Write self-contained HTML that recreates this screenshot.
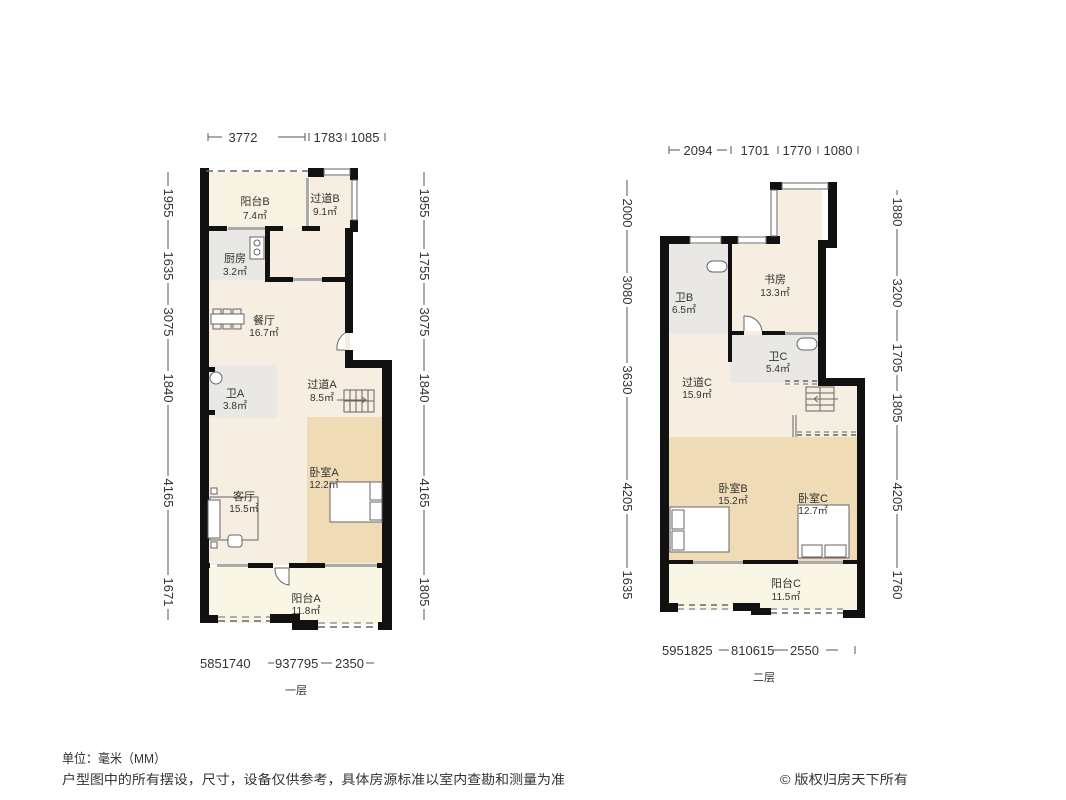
<!DOCTYPE html>
<html><head><meta charset="utf-8"><style>
html,body{margin:0;padding:0;background:#fff}
svg{display:block}
text{font-family:"Liberation Sans","Noto Sans CJK SC",sans-serif;fill:#333}
</style></head><body>
<svg width="1066" height="800" viewBox="0 0 1066 800" xmlns="http://www.w3.org/2000/svg">
<!-- ===== LEFT PLAN (一层) ===== -->
<rect x="208" y="172" width="100" height="56" fill="#f8f2e2"/>
<rect x="310" y="176" width="42" height="52" fill="#f6eee0"/>
<rect x="270" y="228" width="80" height="52" fill="#f6eee0"/>
<rect x="208" y="228" width="60" height="52" fill="#e9e8e4"/>
<rect x="208" y="280" width="142" height="85" fill="#f6eee0"/>
<rect x="208" y="360" width="178" height="205" fill="#f6eee0"/>
<rect x="208" y="365" width="69" height="53" fill="#e9e8e4"/>
<rect x="307" y="417" width="76" height="146" fill="#efdcb6"/>
<rect x="208" y="567" width="176" height="56" fill="#faf6e6"/>
<g fill="#111">
<rect x="200" y="168" width="9" height="455"/>
<rect x="200" y="615" width="18" height="8"/>
<rect x="270" y="614" width="30" height="9"/>
<rect x="292" y="620" width="26" height="10"/>
<rect x="378" y="622" width="14" height="8"/>
<rect x="382" y="360" width="10" height="270"/>
<rect x="345" y="360" width="47" height="8"/>
<rect x="345" y="228" width="8" height="105"/>
<rect x="345" y="350" width="8" height="18"/>
<rect x="350" y="220" width="8" height="12"/>
<rect x="350" y="168" width="8" height="12"/>
<rect x="308" y="168" width="16" height="9"/>
<rect x="209" y="226" width="18" height="5"/>
<rect x="265" y="226" width="18" height="5"/>
<rect x="302" y="226" width="18" height="5"/>
<rect x="265" y="226" width="5" height="55"/>
<rect x="265" y="277" width="28" height="5"/>
<rect x="322" y="277" width="28" height="5"/>
<rect x="200" y="563" width="10" height="5"/>
<rect x="248" y="563" width="25" height="5"/>
<rect x="289" y="563" width="36" height="5"/>
<rect x="377" y="563" width="8" height="5"/>
<rect x="209" y="410" width="6" height="5"/>
<rect x="209" y="367" width="6" height="5"/>
</g>
<g fill="#aaa">
<rect x="228" y="227" width="37" height="3"/>
<rect x="293" y="278" width="29" height="3"/>
<rect x="306" y="178" width="3" height="48"/>
<rect x="217" y="564" width="31" height="3"/>
<rect x="325" y="564" width="52" height="3"/>
</g>
<g fill="none" stroke="#666" stroke-width="1">
<line x1="206" y1="171" x2="308" y2="171" stroke-dasharray="7,5" stroke-width="1.5"/>
<rect x="324" y="169" width="26" height="6"/>
<rect x="352" y="180" width="5" height="40"/>
<line x1="218" y1="621" x2="270" y2="621" stroke-dasharray="7,5" stroke-width="1.5"/>
<line x1="318" y1="627" x2="378" y2="627" stroke-dasharray="7,5" stroke-width="1.5"/>
<line x1="218" y1="617" x2="270" y2="617" stroke-dasharray="7,5"/>
<line x1="318" y1="623" x2="378" y2="623" stroke-dasharray="7,5"/>
<rect x="250" y="237" width="14" height="22" fill="#fff"/>
<circle cx="257" cy="243" r="3"/><circle cx="257" cy="252" r="3"/>
<rect x="211" y="314" width="33" height="10" fill="#fff"/>
<rect x="213" y="309" width="8" height="5"/><rect x="223" y="309" width="8" height="5"/><rect x="233" y="309" width="8" height="5"/>
<rect x="213" y="324" width="8" height="5"/><rect x="223" y="324" width="8" height="5"/><rect x="233" y="324" width="8" height="5"/>
<rect x="210" y="372" width="12" height="12" rx="6" fill="#fff"/>
<path d="M345 333 A18 18 0 0 0 337 350 L345 350" fill="#fff"/>
<path d="M275 568 L289 568 L289 585 A16 16 0 0 1 275 568" fill="#fff"/>
<rect x="344" y="390" width="30" height="22"/>
<line x1="350" y1="390" x2="350" y2="412"/><line x1="356" y1="390" x2="356" y2="412"/><line x1="362" y1="390" x2="362" y2="412"/><line x1="368" y1="390" x2="368" y2="412"/>
<line x1="344" y1="401" x2="374" y2="401"/>
<line x1="337" y1="400" x2="366" y2="400"/><path d="M362 397 L366 400 L362 403"/>
<rect x="330" y="482" width="52" height="40" fill="#fff"/>
<rect x="370" y="482" width="12" height="18" fill="#fff"/><rect x="370" y="502" width="12" height="18" fill="#fff"/>
<rect x="210" y="497" width="48" height="43"/>
<rect x="208" y="500" width="12" height="38" fill="#fff"/>
<rect x="211" y="488" width="6" height="6" fill="#fff"/><rect x="211" y="542" width="6" height="6" fill="#fff"/>
<rect x="228" y="535" width="14" height="12" rx="3" fill="#fff"/>
</g>
<g font-size="11" text-anchor="middle">
<text x="255" y="205">阳台B</text><text x="255" y="219" font-size="10">7.4㎡</text>
<text x="325" y="202">过道B</text><text x="325" y="215" font-size="10">9.1㎡</text>
<text x="235" y="262">厨房</text><text x="235" y="275" font-size="10">3.2㎡</text>
<text x="264" y="324">餐厅</text><text x="264" y="336" font-size="10">16.7㎡</text>
<text x="235" y="397">卫A</text><text x="235" y="409" font-size="10">3.8㎡</text>
<text x="322" y="388">过道A</text><text x="322" y="401" font-size="10">8.5㎡</text>
<text x="324" y="476">卧室A</text><text x="324" y="488" font-size="10">12.2㎡</text>
<text x="244" y="500">客厅</text><text x="244" y="512" font-size="10">15.5㎡</text>
<text x="306" y="602">阳台A</text><text x="306" y="614" font-size="10">11.8㎡</text>
</g>
<g font-size="13" fill="#333">
<text x="243" y="142" text-anchor="middle">3772</text>
<text x="328" y="142" text-anchor="middle">1783</text>
<text x="365" y="142" text-anchor="middle">1085</text>
<text x="200" y="668">5851740</text><text x="275" y="668">937795</text><text x="335" y="668">2350</text>
<text x="296" y="694" text-anchor="middle" font-size="11">一层</text>
</g>
<g stroke="#555" stroke-width="1">
<line x1="208" y1="137" x2="222" y2="137"/><line x1="208" y1="133" x2="208" y2="141"/>
<line x1="278" y1="137" x2="305" y2="137"/><line x1="305" y1="133" x2="305" y2="141"/><line x1="309" y1="133" x2="309" y2="141"/>
<line x1="346" y1="133" x2="346" y2="141"/><line x1="385" y1="133" x2="385" y2="141"/>
<line x1="268" y1="663" x2="274" y2="663"/><line x1="321" y1="663" x2="332" y2="663"/><line x1="366" y1="663" x2="374" y2="663"/>
<line x1="168" y1="172" x2="168" y2="620"/><line x1="424" y1="172" x2="424" y2="620"/>
</g>
<g font-size="13">
<g transform="translate(168,203) rotate(90)"><rect x="-17" y="-9" width="34" height="14" fill="#fff"/><text text-anchor="middle" y="4">1955</text></g>
<g transform="translate(168,266) rotate(90)"><rect x="-17" y="-9" width="34" height="14" fill="#fff"/><text text-anchor="middle" y="4">1635</text></g>
<g transform="translate(168,322) rotate(90)"><rect x="-17" y="-9" width="34" height="14" fill="#fff"/><text text-anchor="middle" y="4">3075</text></g>
<g transform="translate(168,388) rotate(90)"><rect x="-17" y="-9" width="34" height="14" fill="#fff"/><text text-anchor="middle" y="4">1840</text></g>
<g transform="translate(168,493) rotate(90)"><rect x="-17" y="-9" width="34" height="14" fill="#fff"/><text text-anchor="middle" y="4">4165</text></g>
<g transform="translate(168,592) rotate(90)"><rect x="-17" y="-9" width="34" height="14" fill="#fff"/><text text-anchor="middle" y="4">1671</text></g>
<g transform="translate(424,203) rotate(90)"><rect x="-17" y="-9" width="34" height="14" fill="#fff"/><text text-anchor="middle" y="4">1955</text></g>
<g transform="translate(424,266) rotate(90)"><rect x="-17" y="-9" width="34" height="14" fill="#fff"/><text text-anchor="middle" y="4">1755</text></g>
<g transform="translate(424,322) rotate(90)"><rect x="-17" y="-9" width="34" height="14" fill="#fff"/><text text-anchor="middle" y="4">3075</text></g>
<g transform="translate(424,388) rotate(90)"><rect x="-17" y="-9" width="34" height="14" fill="#fff"/><text text-anchor="middle" y="4">1840</text></g>
<g transform="translate(424,493) rotate(90)"><rect x="-17" y="-9" width="34" height="14" fill="#fff"/><text text-anchor="middle" y="4">4165</text></g>
<g transform="translate(424,592) rotate(90)"><rect x="-17" y="-9" width="34" height="14" fill="#fff"/><text text-anchor="middle" y="4">1805</text></g>
</g>

<!-- ===== RIGHT PLAN (二层) ===== -->
<rect x="778" y="190" width="44" height="54" fill="#f6eee0"/>
<rect x="668" y="244" width="62" height="92" fill="#e9e8e4"/>
<rect x="730" y="244" width="90" height="90" fill="#f6eee0"/>
<rect x="668" y="334" width="152" height="104" fill="#f6eee0"/>
<rect x="818" y="384" width="40" height="54" fill="#f6eee0"/>
<rect x="730" y="335" width="90" height="48" fill="#e9e8e4"/>
<rect x="668" y="437" width="190" height="124" fill="#efdcb6"/>
<rect x="668" y="564" width="190" height="46" fill="#faf6e6"/>
<g fill="#111">
<rect x="660" y="236" width="9" height="376"/>
<rect x="660" y="236" width="30" height="8"/>
<rect x="721" y="236" width="17" height="8"/>
<rect x="766" y="236" width="14" height="8"/>
<rect x="770" y="182" width="12" height="8"/>
<rect x="828" y="182" width="9" height="66"/>
<rect x="818" y="240" width="10" height="8"/>
<rect x="818" y="240" width="8" height="142"/>
<rect x="818" y="378" width="47" height="8"/>
<rect x="857" y="378" width="8" height="240"/>
<rect x="728" y="244" width="4" height="118"/>
<rect x="730" y="331" width="14" height="4"/>
<rect x="762" y="331" width="23" height="4"/>
<rect x="660" y="560" width="33" height="4"/>
<rect x="743" y="560" width="55" height="4"/>
<rect x="843" y="560" width="20" height="4"/>
<rect x="660" y="603" width="18" height="9"/>
<rect x="733" y="603" width="27" height="8"/>
<rect x="751" y="608" width="20" height="7"/>
<rect x="843" y="610" width="22" height="8"/>
</g>
<g fill="#aaa">
<rect x="785" y="332" width="33" height="3"/>
<rect x="693" y="561" width="50" height="3"/>
<rect x="798" y="561" width="45" height="3"/>
</g>
<g fill="none" stroke="#666" stroke-width="1">
<rect x="690" y="237" width="31" height="6"/>
<rect x="738" y="237" width="28" height="6"/>
<rect x="771" y="190" width="6" height="46"/>
<rect x="782" y="183" width="46" height="6"/>
<line x1="678" y1="605" x2="733" y2="605" stroke-dasharray="6,5" stroke-width="1.5"/>
<line x1="678" y1="609" x2="733" y2="609" stroke-dasharray="6,5"/>
<line x1="771" y1="613" x2="843" y2="613" stroke-dasharray="6,5" stroke-width="1.5"/>
<line x1="771" y1="609" x2="843" y2="609" stroke-dasharray="6,5"/>
<line x1="785" y1="381" x2="820" y2="381" stroke-dasharray="5,4" stroke-width="1.5"/>
<line x1="785" y1="384" x2="820" y2="384" stroke-dasharray="5,4"/>
<line x1="797" y1="435" x2="860" y2="435" stroke-dasharray="5,4" stroke-width="1.5"/>
<line x1="797" y1="432" x2="860" y2="432" stroke-dasharray="5,4"/>
<line x1="793" y1="415" x2="793" y2="437"/><line x1="796" y1="415" x2="796" y2="437"/>
<rect x="707" y="261" width="20" height="11" rx="5.5" fill="#fff"/>
<rect x="797" y="338" width="20" height="12" rx="6" fill="#fff"/>
<path d="M744 331 L744 316 A17 17 0 0 1 762 331" fill="#fff"/>
<rect x="806" y="387" width="28" height="24"/>
<line x1="806" y1="393" x2="834" y2="393"/><line x1="806" y1="399" x2="834" y2="399"/><line x1="806" y1="405" x2="834" y2="405"/>
<line x1="820" y1="387" x2="820" y2="411"/>
<line x1="814" y1="399" x2="838" y2="399"/><path d="M818 396 L814 399 L818 402"/>
<rect x="670" y="507" width="59" height="45" fill="#fff"/>
<rect x="672" y="510" width="12" height="19" fill="#fff"/><rect x="672" y="531" width="12" height="19" fill="#fff"/>
<rect x="798" y="505" width="51" height="53" fill="#fff"/>
<rect x="802" y="545" width="20" height="12" fill="#fff"/><rect x="825" y="545" width="21" height="12" fill="#fff"/>
</g>
<g font-size="11" text-anchor="middle">
<text x="775" y="283">书房</text><text x="775" y="296" font-size="10">13.3㎡</text>
<text x="684" y="301">卫B</text><text x="684" y="313" font-size="10">6.5㎡</text>
<text x="778" y="360">卫C</text><text x="778" y="372" font-size="10">5.4㎡</text>
<text x="697" y="386">过道C</text><text x="697" y="398" font-size="10">15.9㎡</text>
<text x="733" y="492">卧室B</text><text x="733" y="504" font-size="10">15.2㎡</text>
<text x="813" y="502">卧室C</text><text x="813" y="514" font-size="10">12.7㎡</text>
<text x="786" y="587">阳台C</text><text x="786" y="600" font-size="10">11.5㎡</text>
</g>
<g font-size="13">
<text x="698" y="155" text-anchor="middle">2094</text>
<text x="755" y="155" text-anchor="middle">1701</text>
<text x="797" y="155" text-anchor="middle">1770</text>
<text x="838" y="155" text-anchor="middle">1080</text>
<text x="662" y="655">5951825</text><text x="731" y="655">810615</text><text x="790" y="655">2550</text>
<text x="764" y="681" text-anchor="middle" font-size="11">二层</text>
</g>
<g stroke="#555" stroke-width="1">
<line x1="669" y1="150" x2="680" y2="150"/><line x1="669" y1="146" x2="669" y2="154"/>
<line x1="717" y1="150" x2="727" y2="150"/><line x1="731" y1="146" x2="731" y2="154"/>
<line x1="778" y1="146" x2="778" y2="154"/><line x1="818" y1="146" x2="818" y2="154"/><line x1="858" y1="146" x2="858" y2="154"/>
<line x1="719" y1="650" x2="729" y2="650"/><line x1="772" y1="650" x2="788" y2="650"/><line x1="826" y1="650" x2="838" y2="650"/><line x1="855" y1="646" x2="855" y2="654"/>
<line x1="627" y1="180" x2="627" y2="600"/><line x1="897" y1="190" x2="897" y2="600"/>
</g>
<g font-size="13">
<g transform="translate(627,213) rotate(90)"><rect x="-17" y="-9" width="34" height="14" fill="#fff"/><text text-anchor="middle" y="4">2000</text></g>
<g transform="translate(627,290) rotate(90)"><rect x="-17" y="-9" width="34" height="14" fill="#fff"/><text text-anchor="middle" y="4">3080</text></g>
<g transform="translate(627,380) rotate(90)"><rect x="-17" y="-9" width="34" height="14" fill="#fff"/><text text-anchor="middle" y="4">3630</text></g>
<g transform="translate(627,497) rotate(90)"><rect x="-17" y="-9" width="34" height="14" fill="#fff"/><text text-anchor="middle" y="4">4205</text></g>
<g transform="translate(627,585) rotate(90)"><rect x="-17" y="-9" width="34" height="14" fill="#fff"/><text text-anchor="middle" y="4">1635</text></g>
<g transform="translate(897,212) rotate(90)"><rect x="-17" y="-9" width="34" height="14" fill="#fff"/><text text-anchor="middle" y="4">1880</text></g>
<g transform="translate(897,293) rotate(90)"><rect x="-17" y="-9" width="34" height="14" fill="#fff"/><text text-anchor="middle" y="4">3200</text></g>
<g transform="translate(897,358) rotate(90)"><rect x="-17" y="-9" width="34" height="14" fill="#fff"/><text text-anchor="middle" y="4">1705</text></g>
<g transform="translate(897,408) rotate(90)"><rect x="-17" y="-9" width="34" height="14" fill="#fff"/><text text-anchor="middle" y="4">1805</text></g>
<g transform="translate(897,497) rotate(90)"><rect x="-17" y="-9" width="34" height="14" fill="#fff"/><text text-anchor="middle" y="4">4205</text></g>
<g transform="translate(897,585) rotate(90)"><rect x="-17" y="-9" width="34" height="14" fill="#fff"/><text text-anchor="middle" y="4">1760</text></g>
</g>

<g font-size="13" fill="#222">
<text x="62" y="763" textLength="104" lengthAdjust="spacingAndGlyphs">单位：毫米（MM）</text>
<text x="62" y="784" textLength="503" lengthAdjust="spacingAndGlyphs">户型图中的所有摆设，尺寸，设备仅供参考，具体房源标准以室内查勘和测量为准</text>
<text x="780" y="784" textLength="128" lengthAdjust="spacingAndGlyphs">© 版权归房天下所有</text>
</g>
</svg>
</body></html>
